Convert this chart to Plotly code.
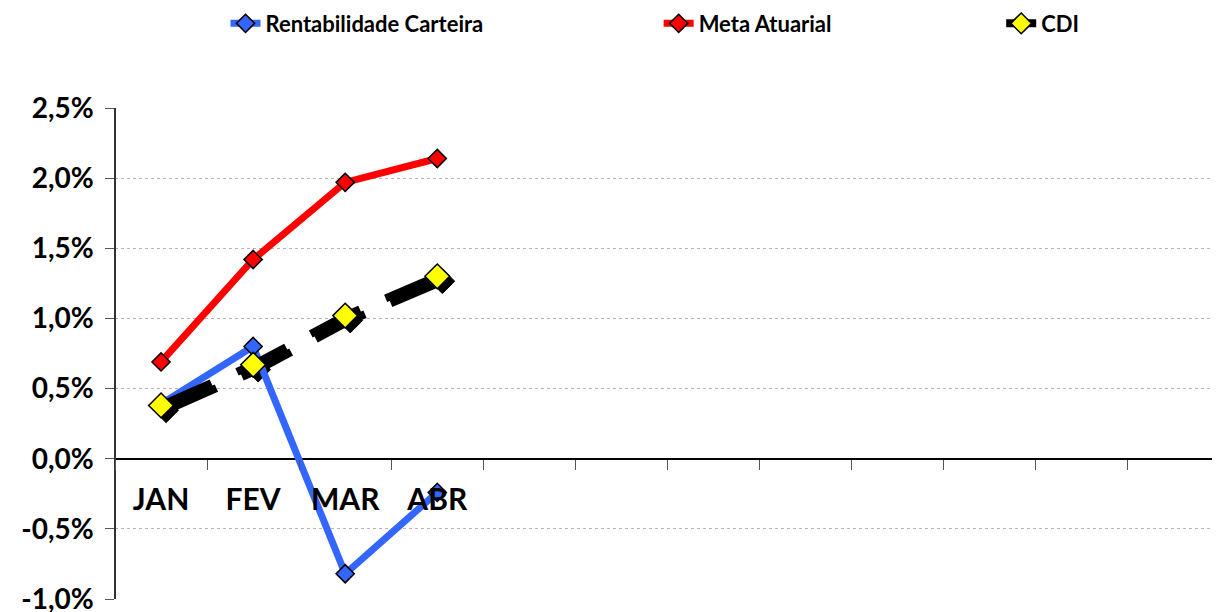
import plotly.graph_objects as go

months = ["JAN", "FEV", "MAR", "ABR", "MAI", "JUN", "JUL", "AGO", "SET", "OUT", "NOV", "DEZ"]
month_labels = ["JAN", "FEV", "MAR", "ABR", "", "", "", "", "", "", "", ""]
data_months = ["JAN", "FEV", "MAR", "ABR"]
rentabilidade = [0.0039, 0.0080, -0.0082, -0.0024]
meta_atuarial = [0.0069, 0.0142, 0.0197, 0.0214]
cdi = [0.0038, 0.0067, 0.0102, 0.0130]
y_ticks = [-0.01, -0.005, 0.0, 0.005, 0.01, 0.015, 0.02, 0.025]
y_tick_text = [("%.1f%%" % (v * 100)).replace(".", ",") for v in y_ticks]

FONT = "Lato"
y_range = [-0.01, 0.025]
x_range = [-0.5, 11.5]
# shadow offset (in axis units) ~5px right/down
dx = 0.055
dy = 0.00035

fig = go.Figure()

# shadow of CDI on base axes (shifted range)
fig.add_trace(go.Scatter(
    x=data_months, y=cdi, mode="lines+markers", xaxis="x", yaxis="y",
    line=dict(color="black", width=8, dash="55px,28px"),
    marker=dict(symbol="diamond", size=19, color="black", line=dict(color="black", width=1)),
    showlegend=False, hoverinfo="skip",
))

fig.add_trace(go.Scatter(
    x=data_months, y=rentabilidade, name="Rentabilidade Carteira", mode="lines+markers",
    xaxis="x2", yaxis="y2", legend="legend",
    line=dict(color="#3366FF", width=7),
    marker=dict(symbol="diamond", size=14, color="#3366FF", line=dict(color="black", width=1.5)),
))
fig.add_trace(go.Scatter(
    x=data_months, y=meta_atuarial, name="Meta Atuarial", mode="lines+markers",
    xaxis="x2", yaxis="y2", legend="legend2",
    line=dict(color="#FF0000", width=7),
    marker=dict(symbol="diamond", size=14, color="#FF0000", line=dict(color="black", width=1.5)),
))
fig.add_trace(go.Scatter(
    x=data_months, y=cdi, name="CDI", mode="lines+markers",
    xaxis="x2", yaxis="y2", legend="legend3",
    line=dict(color="black", width=8, dash="55px,28px"),
    marker=dict(symbol="diamond", size=19, color="#FFFF00", line=dict(color="black", width=1.5)),
))

legend_common = dict(
    orientation="h", yanchor="middle", xanchor="left", y=1.172,
    font=dict(family=FONT, size=22, color="black", weight="bold"),
    bgcolor="rgba(0,0,0,0)", itemwidth=30, borderwidth=0,
)

fig.update_layout(
    width=1220, height=612,
    margin=dict(l=107, r=8, t=100, b=21, autoexpand=False),
    paper_bgcolor="white", plot_bgcolor="white",
    legend=dict(**legend_common, x=0.100),
    legend2=dict(**legend_common, x=0.492),
    legend3=dict(**legend_common, x=0.802),
    xaxis=dict(type="category", categoryorder="array", categoryarray=months,
               range=[x_range[0] - dx, x_range[1] - dx], visible=False, automargin=False),
    yaxis=dict(range=[y_range[0] + dy, y_range[1] + dy], visible=False, automargin=False),
    xaxis2=dict(
        type="category", categoryorder="array", categoryarray=months,
        overlaying="x", anchor="free", position=(0 - y_range[0]) / (y_range[1] - y_range[0]),
        range=x_range, tickmode="array", tickvals=months, ticktext=month_labels,
        tickson="boundaries", ticks="outside", ticklen=10, tickcolor="#555555",
        showline=False, showgrid=False, automargin=False,
        tickfont=dict(family=FONT, size=30, color="black", weight="bold"),
        ticklabelstandoff=20,
    ),
    yaxis2=dict(
        overlaying="y", anchor="free", position=0, side="left",
        range=y_range, tickmode="array", tickvals=y_ticks, ticktext=y_tick_text,
        showgrid=True, gridcolor="#b5b5b5", griddash="dot", gridwidth=1,
        zeroline=True, zerolinecolor="black", zerolinewidth=1.5,
        showline=True, linecolor="#333333", linewidth=1.5,
        ticks="outside", ticklen=9, tickcolor="#555555", automargin=False,
        tickfont=dict(family=FONT, size=28, color="black", weight="bold"),
        ticklabelstandoff=6,
    ),
)

fig.write_html("out.html")
